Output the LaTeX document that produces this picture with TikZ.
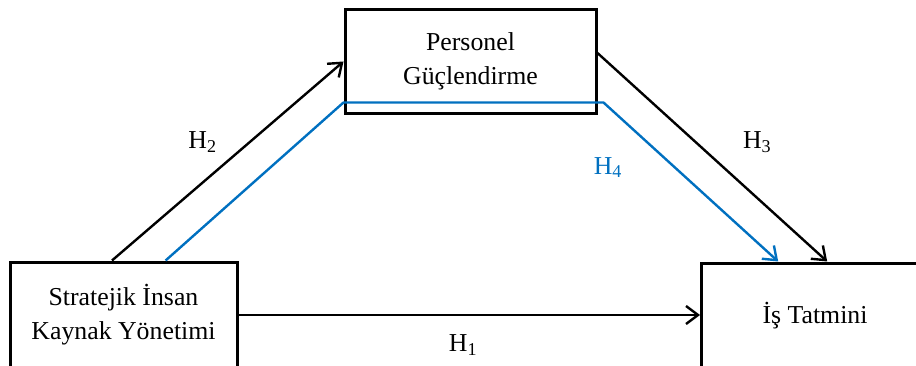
\documentclass[tikz,border=0pt]{standalone}
\usepackage{fontspec}
\setmainfont{Liberation Serif}
\usepackage{xcolor}
\usetikzlibrary{arrows.meta,positioning,calc}
\definecolor{hblue}{HTML}{0070C0}

\begin{document}
\begin{tikzpicture}[
  x=0.5pt, y=0.5pt,
  font=\fontsize{12.9}{17}\selectfont,
  box/.style={rectangle, draw=black, line width=1.5pt, fill=white, minimum width=113.5pt, minimum height=53pt, align=center, inner sep=0pt},
  arrow/.style={-{Straight Barb[length=6pt,width=9pt]}, line width=1.2pt},
  hlabel/.style={inner sep=0pt}
]
\clip (0,0) rectangle (916,365);
\node[box] (sih) at (123.5,50) {Stratejik İnsan\\Kaynak Yönetimi};
\node[box, minimum width=125.5pt, minimum height=51.5pt] (pg) at (470.5,303.5) {Personel\\Güçlendirme};
\node[box] (it) at (815,49) {İş Tatmini};

\draw[arrow] (sih.east) -- (sih.east -| it.west)
  node[hlabel, midway, xshift=-3pt, yshift=-15pt] {H\textsubscript{1}};
\draw[arrow] ($(sih.north west)!0.45!(sih.north east)$) -- (pg.west)
  node[hlabel, midway, xshift=-12.5pt, yshift=9.5pt] {H\textsubscript{2}};
\draw[arrow] ($(pg.north east)!0.42!(pg.south east)$) -- ($(it.north west)!0.553!(it.north east)$)
  node[hlabel, midway, xshift=22.5pt, yshift=7.5pt] {H\textsubscript{3}};
\draw[arrow, hblue] ($(sih.north west)!0.683!(sih.north east)$) -- ($(pg.south west)+(0,12)$)
  -- ($(pg.south east)+(6,12)$) -- ($(it.north west)!0.34!(it.north east)$)
  node[hlabel, pos=0.41, xshift=-33.5pt, text=hblue] {H\textsubscript{4}};
\end{tikzpicture}
\end{document}
